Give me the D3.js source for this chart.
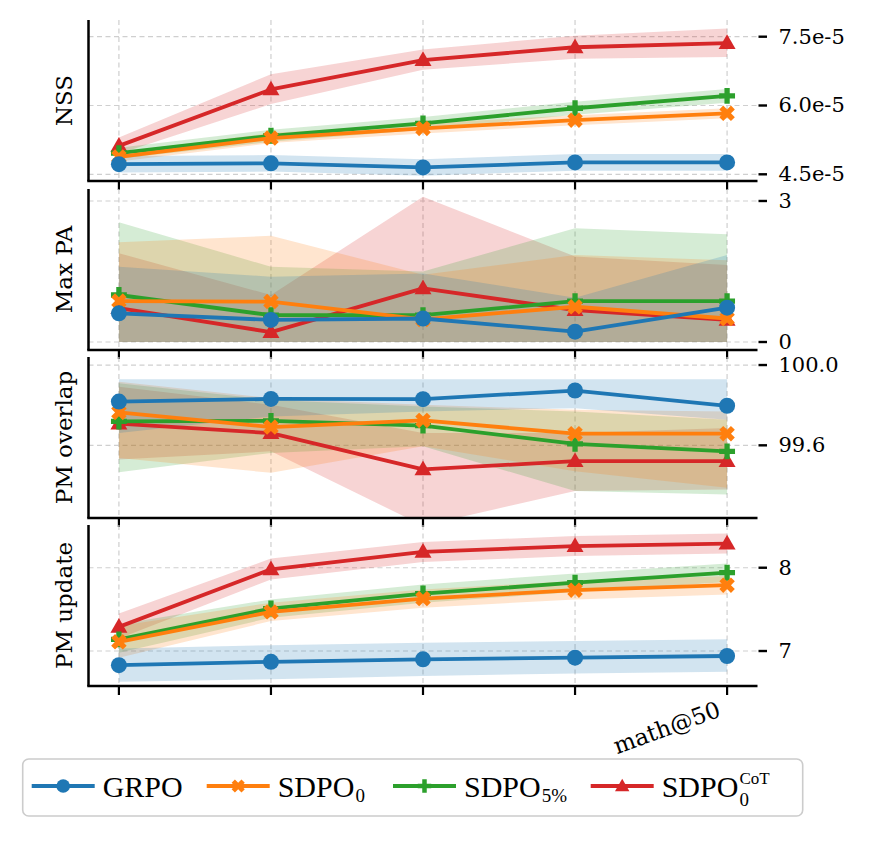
<!DOCTYPE html>
<html><head>
<meta charset="utf-8">
<script src="https://d3js.org/d3.v7.min.js"></script>
<style>
body { margin: 0; background: #fff; }
text { font-family: "DejaVu Serif", serif; fill: #000; }
.leg text { font-family: "Liberation Serif", "DejaVu Serif", serif; }
</style>
</head>
<body>
<svg id="chart" width="877" height="841"></svg>
<script>
// checkpoints along the x axis, only the last one is labelled
const steps = [0, 1, 2, 3, 4];
const xTickLabels = ["", "", "", "", "math@50"];

const methods = ["GRPO", "SDPO0", "SDPO5", "SDPOCoT"];
const colors = ["#1f77b4", "#ff7f0e", "#2ca02c", "#d62728"];

// NSS (in units of 1e-5)
const nssMean = [
  [4.72, 4.74, 4.65, 4.76, 4.76],
  [4.88, 5.29, 5.50, 5.68, 5.83],
  [4.96, 5.34, 5.61, 5.94, 6.21],
  [5.12, 6.35, 6.99, 7.27, 7.36]];
const nssLo = [
  [4.54, 4.56, 4.47, 4.58, 4.58],
  [4.78, 5.18, 5.39, 5.57, 5.72],
  [4.84, 5.21, 5.47, 5.80, 6.06],
  [4.95, 6.03, 6.78, 7.02, 7.06]];
const nssHi = [
  [4.90, 4.92, 4.83, 4.94, 4.94],
  [4.98, 5.40, 5.61, 5.79, 5.94],
  [5.08, 5.47, 5.75, 6.08, 6.36],
  [5.30, 6.68, 7.22, 7.52, 7.68]];
const nssTicks = [4.5, 6.0, 7.5];
const nssTickLabels = ["4.5e-5", "6.0e-5", "7.5e-5"];

// Max PA
const paMean = [
  [0.61, 0.47, 0.50, 0.22, 0.73],
  [0.87, 0.86, 0.48, 0.75, 0.50],
  [1.00, 0.57, 0.57, 0.87, 0.87],
  [0.72, 0.21, 1.14, 0.68, 0.47]];
const paLo = [
  [0, 0, 0, 0, 0],
  [0, 0, 0, 0, 0],
  [0, 0, 0, 0, 0],
  [0, 0, 0, 0, 0]];
const paHi = [
  [1.60, 1.39, 1.46, 0.94, 1.85],
  [2.12, 2.26, 1.43, 1.85, 1.74],
  [2.55, 1.60, 1.50, 2.42, 2.29],
  [1.89, 1.00, 3.09, 1.82, 1.64]];
const paTicks = [0, 3];
const paTickLabels = ["0", "3"];

// PM overlap
const ovMean = [
  [99.818, 99.831, 99.830, 99.873, 99.797],
  [99.764, 99.691, 99.724, 99.658, 99.658],
  [99.719, 99.722, 99.698, 99.607, 99.570],
  [99.708, 99.661, 99.480, 99.521, 99.521]];
const ovLo = [
  [99.661, 99.744, 99.769, 99.785, 99.727],
  [99.537, 99.463, 99.595, 99.471, 99.389],
  [99.466, 99.562, 99.595, 99.372, 99.355],
  [99.529, 99.570, 99.200, 99.372, 99.380]];
const ovHi = [
  [99.929, 99.929, 99.929, 99.929, 99.929],
  [99.917, 99.835, 99.802, 99.777, 99.769],
  [99.909, 99.826, 99.793, 99.769, 99.728],
  [99.892, 99.802, 99.661, 99.661, 99.686]];
const ovTicks = [99.6, 100.0];
const ovTickLabels = ["99.6", "100.0"];

// PM update
const upMean = [
  [6.83, 6.87, 6.90, 6.92, 6.94],
  [7.11, 7.47, 7.63, 7.73, 7.79],
  [7.14, 7.51, 7.69, 7.82, 7.94],
  [7.29, 7.98, 8.19, 8.26, 8.29]];
const upLo = [
  [6.63, 6.66, 6.70, 6.73, 6.75],
  [6.92, 7.36, 7.52, 7.62, 7.68],
  [6.98, 7.40, 7.58, 7.71, 7.83],
  [7.15, 7.86, 8.07, 8.14, 8.17]];
const upHi = [
  [7.03, 7.07, 7.10, 7.12, 7.14],
  [7.30, 7.58, 7.74, 7.84, 7.90],
  [7.32, 7.62, 7.80, 7.93, 8.05],
  [7.45, 8.11, 8.31, 8.38, 8.41]];
const upTicks = [7, 8];
const upTickLabels = ["7", "8"];

const panels = [
  {label: "NSS", mean: nssMean, lo: nssLo, hi: nssHi, ticks: nssTicks, tickLabels: nssTickLabels, domain: [4.354, 7.864]},
  {label: "Max PA", mean: paMean, lo: paLo, hi: paHi, ticks: paTicks, tickLabels: paTickLabels, domain: [-0.17, 3.255]},
  {label: "PM overlap", mean: ovMean, lo: ovLo, hi: ovHi, ticks: ovTicks, tickLabels: ovTickLabels, domain: [99.238, 100.04]},
  {label: "PM update", mean: upMean, lo: upLo, hi: upHi, ticks: upTicks, tickLabels: upTickLabels, domain: [6.58, 8.513]}
];

const svg = d3.select("#chart");
const left = 88.5, right = 757.5;
const tops = [20, 189, 357, 525];
const panelH = 161;

const x = d3.scaleLinear().domain([-0.2, 4.2]).range([left, right]);

// draw a marker for series k at (cx, cy)
function marker(g, k, cx, cy, small) {
  const s = small ? 0.85 : 1;
  if (k === 0) {
    g.append("circle").attr("cx", cx).attr("cy", cy).attr("r", 8 * s).attr("fill", colors[k]);
  } else if (k === 1) {
    g.append("path").attr("d", d3.symbol(d3.symbolCross, 150 * s * s)())
      .attr("transform", "translate(" + cx + "," + cy + ") rotate(45)").attr("fill", colors[k]);
  } else if (k === 2) {
    g.append("path").attr("d", d3.symbol(d3.symbolCross, 140 * s * s)())
      .attr("transform", "translate(" + cx + "," + cy + ")").attr("fill", colors[k]);
  } else {
    g.append("path").attr("d", d3.symbol(d3.symbolTriangle, 125 * s * s)())
      .attr("transform", "translate(" + cx + "," + (cy + 1) + ")").attr("fill", colors[k]);
  }
}

const drawOrder = [3, 2, 1, 0];

panels.forEach((p, i) => {
  const top = tops[i], bottom = top + panelH;
  const y = d3.scaleLinear().domain(p.domain).range([bottom, top]);
  const g = svg.append("g");

  g.append("clipPath").attr("id", "clip" + i)
    .append("rect").attr("x", left).attr("y", top).attr("width", right - left).attr("height", panelH);

  // grid
  g.selectAll("line.vgrid").data(steps).join("line")
    .attr("x1", d => x(d)).attr("x2", d => x(d))
    .attr("y1", top).attr("y2", bottom)
    .attr("stroke", "#cfcfcf").attr("stroke-width", 1.2).attr("stroke-dasharray", "5,3.5");
  g.selectAll("line.hgrid").data(p.ticks).join("line")
    .attr("x1", left).attr("x2", right)
    .attr("y1", d => y(d)).attr("y2", d => y(d))
    .attr("stroke", "#cfcfcf").attr("stroke-width", 1.2).attr("stroke-dasharray", "5,3.5");

  // std bands
  const bands = g.append("g").attr("clip-path", "url(#clip" + i + ")");
  drawOrder.forEach(k => {
    const area = d3.area()
      .x((d, j) => x(steps[j]))
      .y0((d, j) => y(p.lo[k][j]))
      .y1((d, j) => y(p.hi[k][j]));
    bands.append("path").attr("d", area(p.mean[k]))
      .attr("fill", colors[k]).attr("fill-opacity", 0.2);
  });

  // lines and markers
  drawOrder.forEach(k => {
    const line = d3.line().x((d, j) => x(steps[j])).y(d => y(d));
    const sg = g.append("g");
    sg.append("path").attr("d", line(p.mean[k]))
      .attr("fill", "none").attr("stroke", colors[k]).attr("stroke-width", 3.8)
      .attr("stroke-linejoin", "round");
    p.mean[k].forEach((v, j) => marker(sg, k, x(steps[j]), y(v)));
  });

  // spines
  g.append("line").attr("x1", left).attr("x2", left).attr("y1", top).attr("y2", bottom)
    .attr("stroke", "#000").attr("stroke-width", 2.5);
  g.append("line").attr("x1", left - 1.25).attr("x2", right).attr("y1", bottom).attr("y2", bottom)
    .attr("stroke", "#000").attr("stroke-width", 2.5);

  // x ticks
  g.selectAll("line.xt").data(steps).join("line")
    .attr("x1", d => x(d)).attr("x2", d => x(d))
    .attr("y1", bottom).attr("y2", bottom + 9)
    .attr("stroke", "#000").attr("stroke-width", 2.2);

  // right y ticks + labels
  g.selectAll("line.yt").data(p.ticks).join("line")
    .attr("x1", right + 1).attr("x2", right + 9.5)
    .attr("y1", d => y(d)).attr("y2", d => y(d))
    .attr("stroke", "#000").attr("stroke-width", 2.4);
  g.selectAll("text.yl").data(p.ticks).join("text")
    .attr("x", right + 21).attr("y", d => y(d))
    .attr("dominant-baseline", "central")
    .attr("font-size", 21)
    .text((d, j) => p.tickLabels[j]);

  // y label
  g.append("text")
    .attr("transform", "translate(72," + (top + panelH / 2) + ") rotate(-90)")
    .attr("text-anchor", "middle").attr("font-size", 23)
    .text(p.label);

  if (i === panels.length - 1) {
    steps.forEach((s, j) => {
      if (!xTickLabels[j]) return;
      g.append("text")
        .attr("transform", "translate(" + (x(s) - 5) + "," + (bottom + 30) + ") rotate(-20)")
        .attr("text-anchor", "end").attr("font-size", 23)
        .text(xTickLabels[j]);
    });
  }
});

// legend
const leg = svg.append("g").attr("class", "leg");
leg.append("rect").attr("x", 22.7).attr("y", 759).attr("width", 780).attr("height", 57)
  .attr("rx", 6).attr("fill", "#fff").attr("stroke", "#cccccc").attr("stroke-width", 1.6);

const legStarts = [31.7, 206.7, 393, 590.7];
const legY = 786, legBase = 797;
const legSub = ["", "0", "5%", "0"];
const legSup = ["", "", "", "CoT"];
const legMain = ["GRPO", "SDPO", "SDPO", "SDPO"];

methods.forEach((m, k) => {
  const x0 = legStarts[k];
  leg.append("line").attr("x1", x0).attr("x2", x0 + 63).attr("y1", legY).attr("y2", legY)
    .attr("stroke", colors[k]).attr("stroke-width", 3.8);
  marker(leg, k, x0 + 31.5, legY, true);
  const t = leg.append("text").attr("x", x0 + 71).attr("y", legBase)
    .attr("font-size", 30).text(legMain[k]);
  const w = t.node().getComputedTextLength();
  if (legSub[k]) {
    leg.append("text").attr("x", x0 + 71 + w + 1).attr("y", legBase + (legSup[k] ? 9 : 5))
      .attr("font-size", 19).text(legSub[k]);
  }
  if (legSup[k]) {
    leg.append("text").attr("x", x0 + 71 + w + 1).attr("y", legBase - 13)
      .attr("font-size", 17).text(legSup[k]);
  }
});
</script>
</body>
</html>
